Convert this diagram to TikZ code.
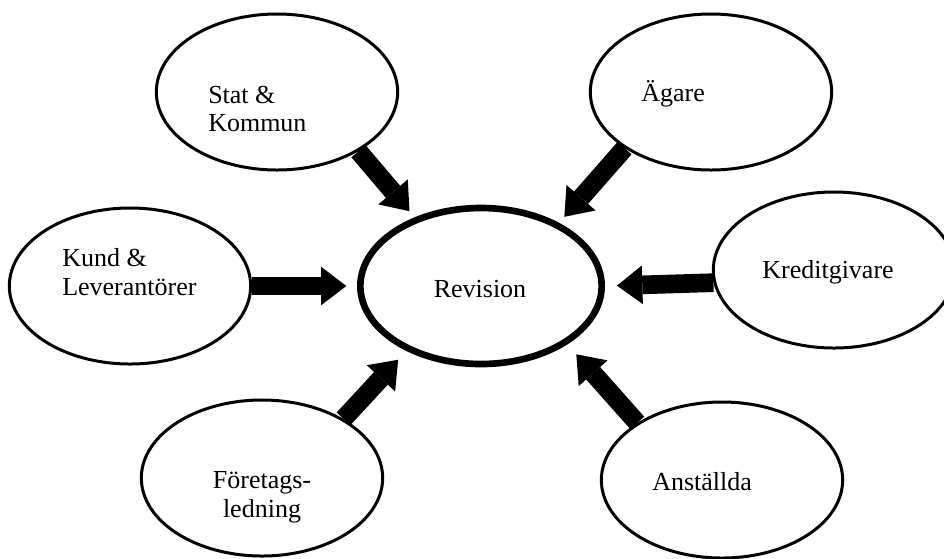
\documentclass[tikz,border=0pt]{standalone}
\usepackage{fontspec}
\setmainfont{Liberation Serif}
\usetikzlibrary{shapes.geometric,arrows.meta}

\begin{document}
\begin{tikzpicture}[x=0.75pt,y=-0.75pt,
                    party/.style={ellipse,draw,line width=2.25pt,minimum width=181pt,minimum height=117pt,inner sep=0pt},
                    lbl/.style={inner sep=0pt,font=\fontsize{19.5}{21.5}\selectfont},
                    flow/.style={line width=14pt,-{Triangle[length=19pt,width=29pt,line width=0pt]}}]
  \useasboundingbox (0,0) rectangle (944,558);

  \node[party,line width=5pt] (rev) at (481,286) {};
  \node[party] (stat) at (277,92) {};
  \node[party] (agare) at (711,92) {};
  \node[party] (kund) at (130,286) {};
  \node[party] (kredit) at (834,270) {};
  \node[party] (ledning) at (262,478) {};
  \node[party] (anst) at (722,480) {};

  \node[lbl,anchor=base] (revT) at (480,297) {Revision};
  \node[lbl,anchor=west,align=left] (statT) at (208,109) {Stat \&\\Kommun};
  \node[lbl,anchor=base west] (agareT) at (641,101) {Ägare};
  \node[lbl,anchor=west,align=left] (kundT) at (62,272) {Kund \&\\Leverantörer};
  \node[lbl,anchor=base] (kreditT) at (828,278) {Kreditgivare};
  \node[lbl,align=center] (ledningT) at (262,497) {Företags-\\ledning};
  \node[lbl,anchor=base west] (anstT) at (652,490) {Anställda};

  \path[flow]
    (stat.-36)    edge[shorten >=6pt] (rev.134)
    (agare.-147)  edge[shorten >=6pt] (rev.39)
    (kund.east)   edge[shorten >=8pt] (rev.west)
    (kredit.186)  edge[shorten >=9pt] (rev.0)
    (ledning.36)  edge[shorten >=9pt] (rev.-139)
    (anst.146)    edge[shorten >=10pt] (rev.-34);
\end{tikzpicture}
\end{document}
